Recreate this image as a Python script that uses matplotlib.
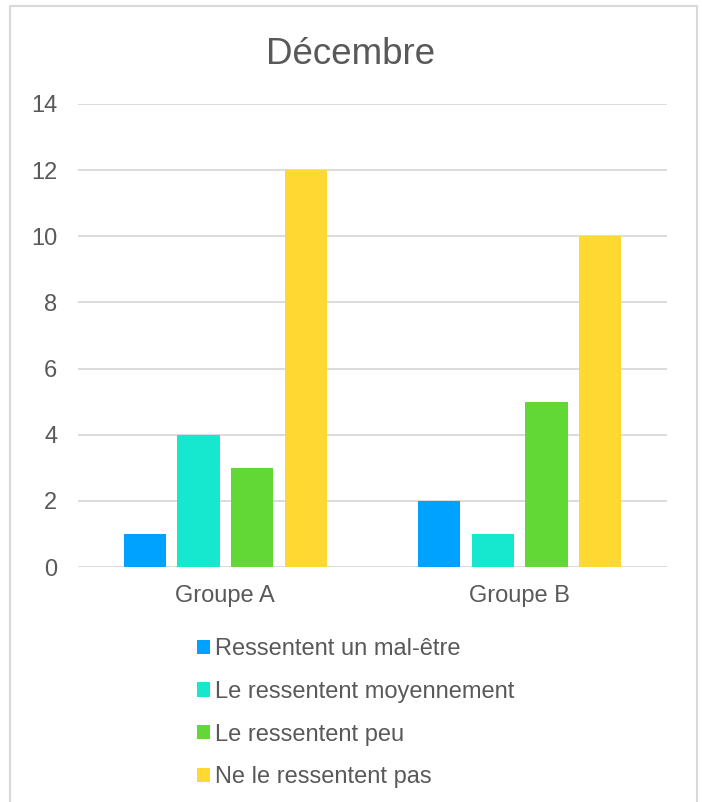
import numpy as np
import matplotlib.pyplot as plt
from matplotlib.patches import Rectangle

plt.rcParams['font.family'] = ['Liberation Sans', 'DejaVu Sans']

groupes = ['Groupe A', 'Groupe B']
series = ['Ressentent un mal-être', 'Le ressentent moyennement',
          'Le ressentent peu', 'Ne le ressentent pas']
valeurs = [
    [1, 2],
    [4, 1],
    [3, 5],
    [12, 10],
]
couleurs = ['#00A2FF', '#16E7CF', '#61D836', '#FFD932']
yticks = [0, 2, 4, 6, 8, 10, 12, 14]

gris = '#595959'

fig = plt.figure(figsize=(7.02, 8.02), dpi=100)
fig.patches.append(Rectangle((10 / 702, -0.01), 687 / 702, 1 - 6 / 802 + 0.01,
                             transform=fig.transFigure, fill=False,
                             edgecolor='#D9D9D9', linewidth=1.5))
ax = fig.add_axes([78 / 702, 1 - 567 / 802, 589 / 702, 463 / 802])

x = np.arange(len(groupes))
w = 0.143
step = 0.182
for i, (vals, c, lab) in enumerate(zip(valeurs, couleurs, series)):
    ax.bar(x + (i - 1.5) * step, vals, width=w, color=c, label=lab, zorder=3)

ax.set_xlim(-0.5, 1.5)
ax.set_ylim(0, 14)
ax.set_yticks(yticks)
ax.set_xticks(x)
ax.set_xticklabels(groupes)
ax.tick_params(axis='both', length=0, labelsize=17, colors=gris)
ax.tick_params(axis='y', pad=15)
ax.tick_params(axis='x', pad=13)
ax.yaxis.grid(True, color='#D9D9D9', linewidth=1.3, zorder=0)
for s in ax.spines.values():
    s.set_visible(False)

fig.text(0.5, 1 - 54 / 802, 'Décembre', ha='center', va='center',
         fontsize=26.5, color=gris)

leg = fig.legend(loc='upper left', bbox_to_anchor=(197 / 702, 1 - 638 / 802),
                 frameon=False, fontsize=17, handlelength=0.55, handleheight=0.55,
                 handletextpad=0.2, labelspacing=0.88, borderpad=0,
                 borderaxespad=0)
for t in leg.get_texts():
    t.set_color(gris)

fig.savefig('out.png', dpi=100)
